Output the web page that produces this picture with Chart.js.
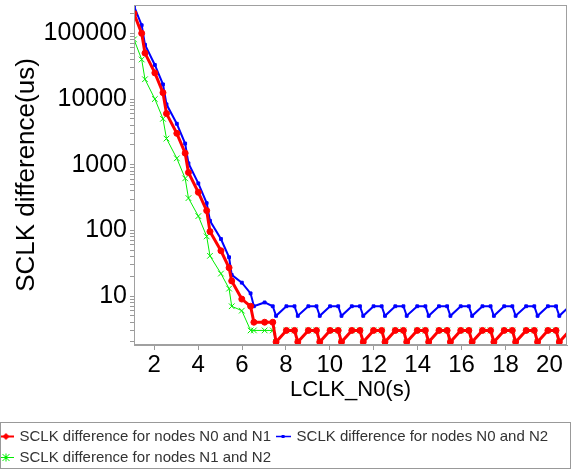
<!DOCTYPE html>
<html>
<head>
<meta charset="utf-8">
<script src="https://cdn.jsdelivr.net/npm/chart.js@4"></script>
<style>
  body { margin: 0; background: #fff; }
  canvas { display: block; }
</style>
</head>
<body>
<canvas id="sclkChart" width="572" height="472"></canvas>
<script>
// thoi diem lay mau LCLK_N0 (s)
const lclkTimes = [
  1.08, 1.43, 1.58,
  2.03, 2.40, 2.56,
  3.03, 3.41, 3.56,
  4.01, 4.39, 4.54,
  5.04, 5.41, 5.53,
  5.99, 6.39, 6.54,
  7.03, 7.40, 7.55,
  8.02, 8.39, 8.54,
  9.02, 9.39, 9.54,
  10.01, 10.38, 10.53,
  11.00, 11.37, 11.52,
  11.99, 12.36, 12.51,
  12.98, 13.35, 13.50,
  13.98, 14.35, 14.50,
  14.97, 15.34, 15.49,
  15.96, 16.33, 16.48,
  16.95, 17.32, 17.47,
  17.94, 18.31, 18.46,
  18.94, 19.31, 19.46,
  19.93, 20.30, 20.45,
  20.92
];

// SCLK difference (us) for each pair of nodes
const diffN0N1 = [
  200000, 100000, 50000,
  25000, 12500, 6000,
  3000, 1500, 760,
  380, 200, 96,
  49, 27, 17,
  9, 7, 4,
  4, 4, 2,
  3, 3, 2,  3, 3, 2,  3, 3, 2,  3, 3, 2,  3, 3, 2,
  3, 3, 2,  3, 3, 2,  3, 3, 2,  3, 3, 2,  3, 3, 2,
  3, 3, 2,  3, 3, 2,  3, 3, 2,
  3
];
const diffN0N2 = [
  260000, 133000, 67000,
  33000, 16700, 8300,
  4200, 2100, 1050,
  520, 260, 140,
  74, 39, 21,
  16, 11, 7,
  8, 7, 5,
  7, 7, 5,  7, 7, 5,  7, 7, 5,  7, 7, 5,  7, 7, 5,
  7, 7, 5,  7, 7, 5,  7, 7, 5,  7, 7, 5,  7, 7, 5,
  7, 7, 5,  7, 7, 5,  7, 7, 5,
  7
];
const diffN1N2 = [
  81000, 40000, 20000,
  10000, 5000, 2500,
  1250, 620, 310,
  165, 81, 41,
  22, 13, 7,
  6, 3, 3,
  3, 3, 2,
  3, 3, 2,  3, 3, 2,  3, 3, 2,  3, 3, 2,  3, 3, 2,
  3, 3, 2,  3, 3, 2,  3, 3, 2,  3, 3, 2,  3, 3, 2,
  3, 3, 2,  3, 3, 2,  3, 3, 2,
  3
];

const seriesNames = [
  'SCLK difference for nodes N0 and N1',
  'SCLK difference for nodes N0 and N2',
  'SCLK difference for nodes N1 and N2'
];

// nhan truc
const xTickValues = [2, 4, 6, 8, 10, 12, 14, 16, 18, 20];
const yMajorTicks = [10, 100, 1000, 10000, 100000];

const RED = '#ff0000', BLUE = '#0000ff', GREEN = '#00ee00';
const FONT = 'Liberation Sans, Arial, sans-serif';

function toPoints(ys) {
  return ys.map((y, i) => ({ x: lclkTimes[i], y: y }));
}

// vach chia phu cho truc log (2..9 moi thap phan)
function yAllTicks() {
  const out = [];
  [1].concat(yMajorTicks).forEach(d => {
    for (let k = 1; k <= 9; k++) {
      const v = d * k;
      if (v >= 1.8 && v <= 270000) out.push(v);
    }
  });
  return out.map(v => ({ value: v }));
}

// icon cho legend: doan thang + marker
function legendIcon(color, kind, lineW) {
  const c = document.createElement('canvas');
  c.width = 15; c.height = 11;
  const g = c.getContext('2d');
  g.strokeStyle = color;
  g.fillStyle = color;
  g.lineWidth = lineW;
  g.beginPath(); g.moveTo(0, 5.5); g.lineTo(15, 5.5); g.stroke();
  if (kind === 'diamond') {
    g.beginPath();
    g.moveTo(7.5, 2); g.lineTo(11, 5.5); g.lineTo(7.5, 9); g.lineTo(4, 5.5);
    g.closePath(); g.fill();
  } else if (kind === 'rect') {
    g.fillRect(6, 4, 3, 3);
  } else {
    g.lineWidth = 1;
    g.beginPath();
    g.moveTo(4, 2); g.lineTo(11, 9);
    g.moveTo(11, 2); g.lineTo(4, 9);
    g.moveTo(7.5, 1.5); g.lineTo(7.5, 9.5);
    g.stroke();
  }
  return c;
}
const legendIcons = [
  legendIcon(RED, 'diamond', 2),
  legendIcon(BLUE, 'rect', 1.5),
  legendIcon(GREEN, 'cross', 1)
];

// khung quanh vung ve va quanh legend
const framePlugin = {
  id: 'frames',
  afterDraw(chart) {
    const { ctx, chartArea: a, legend } = chart;
    ctx.save();
    ctx.strokeStyle = '#a0a0a0';
    ctx.lineWidth = 1;
    ctx.strokeRect(a.left + 0.5, a.top + 0.5, a.right - a.left - 1, a.bottom - a.top - 1);
    ctx.strokeStyle = '#999999';
    ctx.strokeRect(0.5, legend.top - 0.5, chart.width - 2, 46);
    ctx.restore();
  }
};

new Chart(document.getElementById('sclkChart'), {
  type: 'line',
  data: {
    datasets: [
      {
        label: seriesNames[0],
        data: toPoints(diffN0N1),
        borderColor: RED,
        backgroundColor: RED,
        borderWidth: 3,
        pointStyle: 'circle',
        pointRadius: 3,
        pointBorderWidth: 1
      },
      {
        label: seriesNames[1],
        data: toPoints(diffN0N2),
        borderColor: BLUE,
        backgroundColor: BLUE,
        borderWidth: 2,
        pointStyle: 'rect',
        pointRadius: 2,
        pointBorderWidth: 1
      },
      {
        label: seriesNames[2],
        data: toPoints(diffN1N2),
        borderColor: GREEN,
        backgroundColor: GREEN,
        borderWidth: 1,
        pointStyle: 'crossRot',
        pointRadius: 4,
        pointBorderWidth: 1
      }
    ]
  },
  options: {
    responsive: false,
    animation: false,
    devicePixelRatio: 1,
    layout: { padding: { left: -6, right: 1, top: 2, bottom: -3 } },
    plugins: {
      tooltip: { enabled: false },
      legend: {
        position: 'bottom',
        align: 'start',
        labels: {
          usePointStyle: true,
          pointStyleWidth: 12,
          padding: 6,
          color: '#333333',
          font: { family: FONT, size: 15 },
          generateLabels(chart) {
            const items = Chart.defaults.plugins.legend.labels.generateLabels(chart);
            items.forEach((it, i) => { it.pointStyle = legendIcons[i]; });
            return items;
          }
        }
      }
    },
    scales: {
      x: {
        type: 'linear',
        min: 1.08,
        max: 20.8,
        afterFit(s) {
          s.height = 78;
          s.paddingLeft = 0;
          s.paddingRight = 0;
        },
        afterBuildTicks(s) { s.ticks = xTickValues.map(v => ({ value: v })); },
        grid: { drawOnChartArea: false, tickLength: 5, color: '#999999' },
        border: { color: '#a0a0a0' },
        ticks: {
          autoSkip: false,
          maxRotation: 0,
          padding: 1,
          color: '#000000',
          font: { family: FONT, size: 24 }
        },
        title: {
          display: true,
          text: 'LCLK_N0(s)',
          color: '#000000',
          padding: { top: 0, bottom: 20 },
          font: { family: FONT, size: 22 }
        }
      },
      y: {
        type: 'logarithmic',
        min: 1.8,
        max: 270000,
        afterFit(s) {
          s.width = 140;
          s.paddingTop = 0;
          s.paddingBottom = 0;
        },
        afterBuildTicks(s) { s.ticks = yAllTicks(); },
        grid: { drawOnChartArea: false, tickLength: 4, color: '#999999' },
        border: { color: '#a0a0a0' },
        ticks: {
          autoSkip: false,
          padding: 3,
          color: '#000000',
          font: { family: FONT, size: 25 },
          callback: v => (yMajorTicks.includes(v) ? String(v) : '')
        },
        title: {
          display: true,
          text: 'SCLK difference(us)',
          color: '#000000',
          padding: { top: 17, bottom: 0 },
          font: { family: FONT, size: 26 }
        }
      }
    }
  },
  plugins: [framePlugin]
});
</script>
</body>
</html>
